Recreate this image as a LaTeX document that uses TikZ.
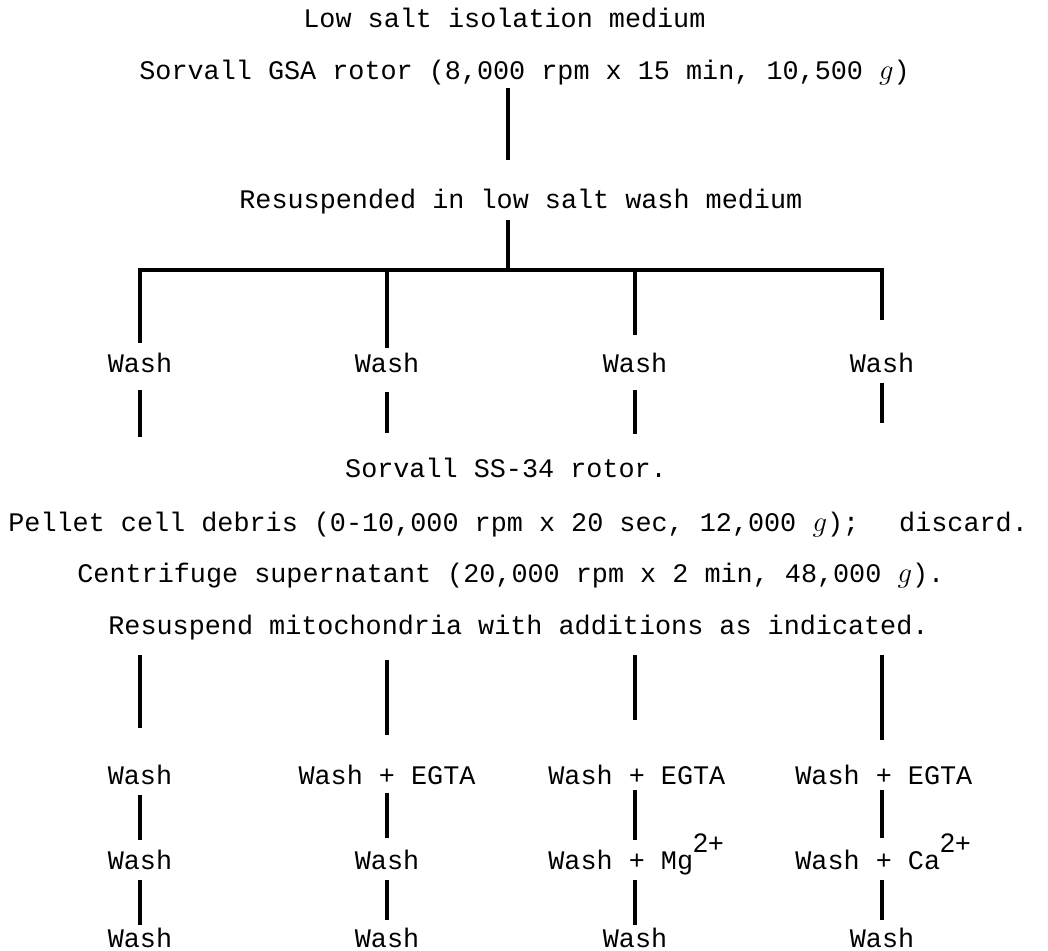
\documentclass[tikz,border=0pt]{standalone}
\usepackage{fontspec}
\setmainfont{Liberation Mono}
\newfontfamily\supf{Liberation Sans}
\newcommand{\ionsup}[1]{\raisebox{8.5pt}{\supf #1}}
\begin{document}
\begin{tikzpicture}[x=0.5pt,y=-0.5pt,
  txt/.style={inner sep=0pt, font=\fontsize{13.4pt}{16pt}\selectfont},
  conn/.style={line width=1.7pt}]
\useasboundingbox (0,0) rectangle (1048,951);
% ---- top texts
\node[txt,anchor=base west] (low) at (303,28) {Low salt isolation medium};
\node[txt,anchor=base west] (gsa) at (139,80) {Sorvall GSA rotor (8,000 rpm x 15 min, 10,500 $g$)};
\node[txt,anchor=base west] (res) at (239,209) {Resuspended in low salt wash medium};
% ---- first wash row
\node[txt,anchor=base] (w1a) at (140,373) {Wash};
\node[txt,anchor=base] (w2a) at (387,373) {Wash};
\node[txt,anchor=base] (w3a) at (635,373) {Wash};
\node[txt,anchor=base] (w4a) at (882,373) {Wash};
% ---- middle texts
\node[txt,anchor=base] (ss) at (506,478) {Sorvall SS-34 rotor.};
\node[txt,anchor=base west] (pel) at (8,531) {Pellet cell debris (0-10,000 rpm x 20 sec, 12,000 $g$);\hspace{20pt}discard.};
\node[txt,anchor=base west] (cen) at (77,582) {Centrifuge supernatant (20,000 rpm x 2 min, 48,000 $g$).};
\node[txt,anchor=base west] (rm) at (108,634) {Resuspend mitochondria with additions as indicated.};
% ---- lower rows
\node[txt,anchor=base] (w1b) at (140,784) {Wash};
\node[txt,anchor=base] (w2b) at (387,784) {Wash + EGTA};
\node[txt,anchor=base west] (w3b) at (548,784) {Wash + EGTA};
\node[txt,anchor=base west] (w4b) at (795,784) {Wash + EGTA};
\node[txt,anchor=base] (w1c) at (140,869) {Wash};
\node[txt,anchor=base] (w2c) at (387,869) {Wash};
\node[txt,anchor=base west] (w3c) at (548,869) {Wash + Mg\ionsup{2+}};
\node[txt,anchor=base west] (w4c) at (795,869) {Wash + Ca\ionsup{2+}};
\node[txt,anchor=base] (w1d) at (140,947) {Wash};
\node[txt,anchor=base] (w2d) at (387,947) {Wash};
\node[txt,anchor=base] (w3d) at (635,947) {Wash};
\node[txt,anchor=base] (w4d) at (882,947) {Wash};
% ---- connector end points
\coordinate (s1t) at (508,88);  \coordinate (s1b) at (508,160);
\coordinate (s2t) at (508,220); \coordinate (s2b) at (508,270);
\coordinate (hl) at (140,270);  \coordinate (hr) at (882,270);
\coordinate (b2h) at (387,270); \coordinate (b3h) at (635,270);
\coordinate (a1) at (140,343); \coordinate (a2) at (387,348); \coordinate (a3) at (635,335); \coordinate (a4) at (882,320);
\coordinate (c1t) at (140,390); \coordinate (c1b) at (140,437);
\coordinate (c2t) at (387,392); \coordinate (c2b) at (387,433);
\coordinate (c3t) at (635,390); \coordinate (c3b) at (635,434);
\coordinate (c4t) at (882,383); \coordinate (c4b) at (882,423);
\coordinate (d1t) at (140,655); \coordinate (d1b) at (140,728);
\coordinate (d2t) at (387,660); \coordinate (d2b) at (387,735);
\coordinate (d3t) at (635,655); \coordinate (d3b) at (635,720);
\coordinate (d4t) at (882,655); \coordinate (d4b) at (882,740);
\coordinate (e1t) at (140,795); \coordinate (e1b) at (140,840);
\coordinate (e2t) at (387,793); \coordinate (e2b) at (387,838);
\coordinate (e3t) at (635,790); \coordinate (e3b) at (635,840);
\coordinate (e4t) at (882,790); \coordinate (e4b) at (882,838);
\coordinate (f1t) at (140,880); \coordinate (f1b) at (140,925);
\coordinate (f2t) at (387,880); \coordinate (f2b) at (387,920);
\coordinate (f3t) at (635,880); \coordinate (f3b) at (635,925);
\coordinate (f4t) at (882,880); \coordinate (f4b) at (882,920);
% ---- connectors
\draw[conn] (s1t) -- (s1b);
\draw[conn] (s2t) -- (s2b);
\draw[conn] (a1) -- (hl) -- (hr) -- (a4);
\draw[conn] (b2h) -- (a2);
\draw[conn] (b3h) -- (a3);
\foreach \p in {c,d,e,f}{
  \foreach \i in {1,2,3,4}{
    \draw[conn] (\p\i t) -- (\p\i b);
  }
}
\end{tikzpicture}
\end{document}
